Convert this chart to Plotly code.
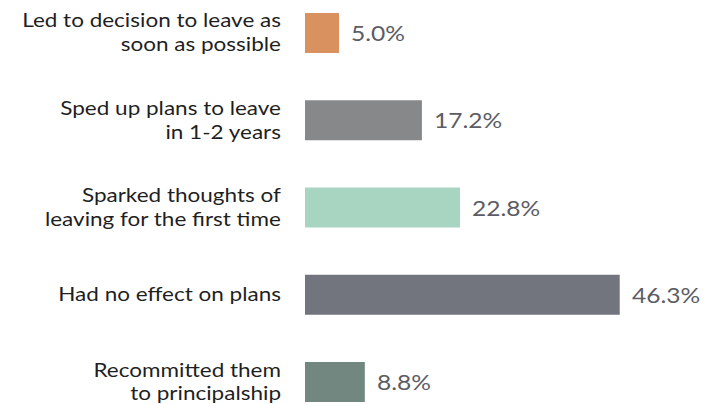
import plotly.graph_objects as go

categories = [
    "Led to decision to leave as<br>soon as possible",
    "Sped up plans to leave<br>in 1-2 years",
    "Sparked thoughts of<br>leaving for the first time",
    "Had no effect on plans",
    "Recommitted them<br>to principalship",
]
values = [5.0, 17.2, 22.8, 46.3, 8.8]
colors = ["#DA9160", "#87888A", "#A7D5C2", "#72747E", "#72877F"]

fig = go.Figure(
    go.Bar(
        x=values,
        y=categories,
        orientation="h",
        marker=dict(color=colors, line=dict(width=0)),
        width=0.46,
        hoverinfo="skip",
    )
)

# percentage labels just past the end of each bar
for cat, val in zip(categories, values):
    fig.add_annotation(
        x=val, y=cat, text=f"{val:.1f}%", showarrow=False,
        xanchor="left", xshift=10, yshift=0,
        font=dict(family="Lato", size=20.5, color="#5c5d64"),
    )

fig.update_layout(
    width=721, height=404,
    margin=dict(l=305, r=0, t=0, b=0),
    paper_bgcolor="white", plot_bgcolor="white",
    showlegend=False,
    font=dict(family="Lato", size=18, color="#1f1f1f"),
    xaxis=dict(range=[0, 61.2], visible=False, fixedrange=True),
    yaxis=dict(
        type="category",
        categoryorder="array", categoryarray=categories,
        range=[4.252, -0.378],
        showgrid=False, zeroline=False, showline=False,
        ticks="", ticklabelstandoff=23,
        tickfont=dict(family="Lato", size=18.3, color="#1f1f1f"),
    ),
)

# widen the lettering horizontally: category labels keep their right edge,
# value labels keep their left edge
widen = """
var gd = document.getElementById('{plot_id}');
function widen(sel, side, k) {
  gd.querySelectorAll(sel).forEach(function (t) {
    var b = t.getBBox();
    var ax = side === 'right' ? b.x + b.width : b.x;
    var tr = t.getAttribute('transform') || '';
    t.setAttribute('transform', tr + ' translate(' + ax + ',0) scale(' + k + ',1) translate(' + (-ax) + ',0)');
  });
}
widen('.ytick text', 'right', 1.23);
widen('.annotation-text', 'left', 1.2);
"""

fig.write_html("out.html", post_script=widen)
